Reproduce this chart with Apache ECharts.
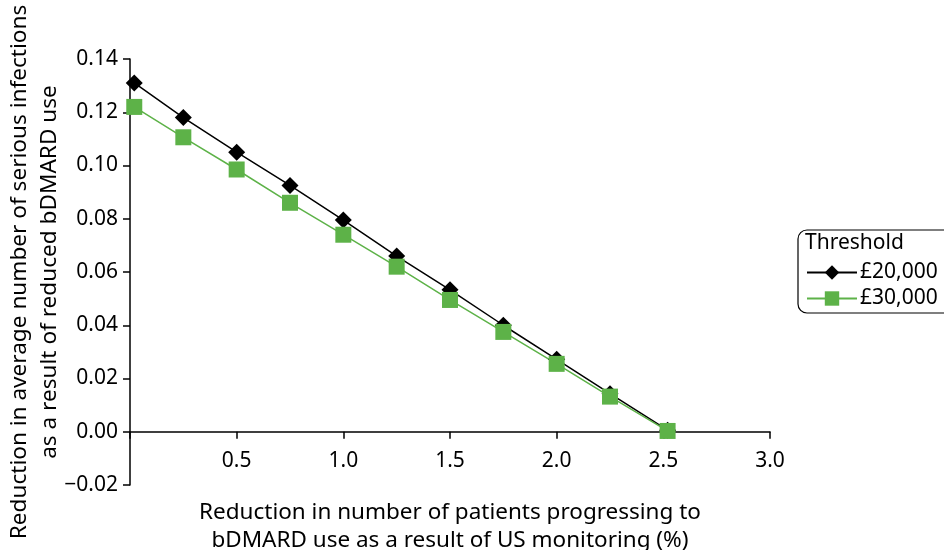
<!DOCTYPE html>
<html>
<head>
<meta charset="utf-8">
<script src="https://cdn.jsdelivr.net/npm/echarts@6/dist/echarts.min.js"></script>
<style>html,body{margin:0;padding:0;background:#fff;}#c{width:944px;height:550px;}</style>
</head>
<body>
<div id="c"></div>
<script>
var seriesNames = ['£20,000', '£30,000'];
var xBlack = [0.02, 0.25, 0.5, 0.75, 1.0, 1.25, 1.5, 1.75, 2.0, 2.25, 2.52];
var yBlack = [0.131, 0.118, 0.105, 0.0925, 0.0795, 0.066, 0.0533, 0.040, 0.0272, 0.0143, 0.0006];
var xGreen = [0.02, 0.25, 0.5, 0.75, 1.0, 1.25, 1.5, 1.75, 2.0, 2.25, 2.52];
var yGreen = [0.122, 0.1106, 0.0985, 0.086, 0.074, 0.062, 0.0495, 0.0375, 0.0255, 0.0132, 0.0003];
var xTitle = 'Reduction in number of patients progressing to\nbDMARD use as a result of US monitoring (%)';
var yTitle = 'Reduction in average number of serious infections\nas a result of reduced bDMARD use';
var legendTitle = 'Threshold';

function pairs(xs, ys) { return xs.map(function (x, i) { return [x, ys[i]]; }); }
var FONT = '"Noto Sans", sans-serif';
var GRID_TOP = 59, GRID_BOTTOM = 65, H = 550;
var plotH = H - GRID_TOP - GRID_BOTTOM;
// the x axis sits on y = 0, i.e. one 0.02 step (of eight) above the grid bottom
var zeroOffset = -plotH * (0.02 / 0.16);
var chart = echarts.init(document.getElementById('c'), null, {renderer: 'canvas'});
chart.setOption({
  animation: false,
  backgroundColor: '#fff',
  textStyle: {fontFamily: FONT},
  title: {
    text: legendTitle, left: 805, top: 233,
    textStyle: {fontFamily: FONT, fontSize: 21, fontWeight: 'normal', color: '#000'}, padding: 0
  },
  graphic: [{
    type: 'rect', silent: true, z: 0,
    shape: {x: 798, y: 230, width: 200, height: 83, r: 9},
    style: {fill: 'none', stroke: '#000', lineWidth: 1.2}
  }],
  legend: {
    orient: 'vertical', left: 798, top: 230,
    padding: [32, 10, 3, 8], itemGap: 5,
    itemWidth: 50, itemHeight: 18,
    lineStyle: {width: 2},
    textStyle: {fontFamily: FONT, fontSize: 21, color: '#000', padding: [0, 0, 0, -2]},
    data: seriesNames
  },
  grid: {left: 130, right: 174, top: GRID_TOP, bottom: GRID_BOTTOM, containLabel: false, outerBoundsMode: 'none'},
  xAxis: {
    type: 'value', min: 0, max: 3, interval: 0.5,
    offset: zeroOffset,
    name: xTitle, nameLocation: 'middle', nameGap: 67, nameMoveOverlap: false,
    nameTextStyle: {fontFamily: FONT, fontSize: 22.5, color: '#000', lineHeight: 28},
    axisLine: {onZero: false, lineStyle: {color: '#000', width: 1.5}},
    axisTick: {show: true, length: 7, lineStyle: {color: '#000', width: 1.5}},
    axisLabel: {fontFamily: FONT, fontSize: 21, color: '#000', margin: 19,
      formatter: function (v) { return v === 0 ? '' : v.toFixed(1); }},
    splitLine: {show: false}
  },
  yAxis: {
    type: 'value', min: -0.02, max: 0.14, interval: 0.02,
    name: yTitle, nameLocation: 'middle', nameGap: 65, nameRotate: 90, nameMoveOverlap: false,
    nameTextStyle: {fontFamily: FONT, fontSize: 22.6, color: '#000', lineHeight: 30},
    axisLine: {show: true, onZero: false, lineStyle: {color: '#000', width: 1.5}},
    axisTick: {show: true, length: 7, lineStyle: {color: '#000', width: 1.5}},
    axisLabel: {fontFamily: FONT, fontSize: 21, color: '#000', margin: 12,
      formatter: function (v) { return v.toFixed(2).replace('-', '\u2212'); }},
    splitLine: {show: false}
  },
  series: [
    {
      name: seriesNames[0], type: 'line', data: pairs(xBlack, yBlack),
      symbol: 'diamond', symbolSize: 17,
      lineStyle: {color: '#000', width: 1.5},
      itemStyle: {color: '#000'}
    },
    {
      name: seriesNames[1], type: 'line', data: pairs(xGreen, yGreen),
      symbol: 'rect', symbolSize: 16,
      lineStyle: {color: '#5db248', width: 1.5},
      itemStyle: {color: '#5db248'}
    }
  ]
});
</script>
</body>
</html>
